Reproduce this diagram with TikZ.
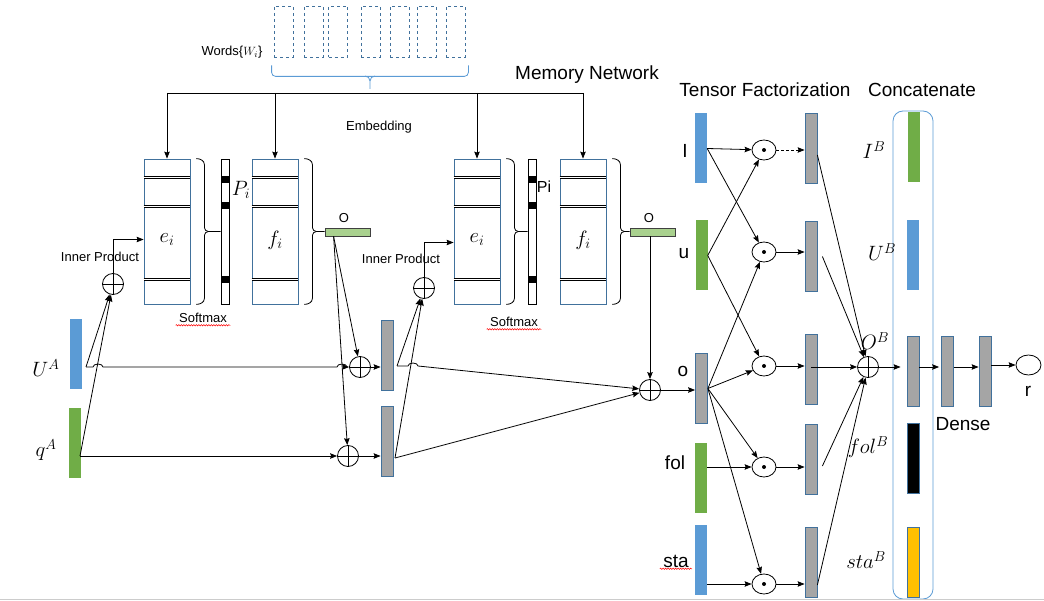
\documentclass[tikz,border=0pt]{standalone}
\usepackage{fontspec}
\setmainfont{Liberation Sans}
\usetikzlibrary{arrows,arrows.meta,positioning,calc,shapes.geometric,decorations.pathmorphing}
\definecolor{barblue}{HTML}{5B9BD5}
\definecolor{bargreen}{HTML}{70AD47}
\definecolor{lightgreen}{HTML}{A9D18E}
\definecolor{bargray}{HTML}{A5A5A5}
\definecolor{edgeblue}{HTML}{41719C}
\definecolor{baryellow}{HTML}{FFC000}
\tikzset{
    bar/.style={rectangle,inner sep=0pt,minimum width=12pt,minimum height=70pt},
    bluebar/.style={bar,fill=barblue},
    greenbar/.style={bar,fill=bargreen},
    graybar/.style={bar,fill=bargray,draw=edgeblue,line width=0.8pt},
    membox/.style={rectangle,draw=edgeblue,line width=0.8pt,minimum width=46pt,minimum height=145pt,inner sep=0pt},
    probbar/.style={rectangle,draw,fill=white,line width=0.8pt,minimum width=8pt,minimum height=145pt,inner sep=0pt},
    outbar/.style={rectangle,draw=black!75,fill=lightgreen,line width=0.8pt,minimum width=45pt,minimum height=8pt,inner sep=0pt},
    wordbox/.style={rectangle,draw=edgeblue,dashed,line width=0.8pt,minimum width=19pt,minimum height=51pt},
    addop/.style={circle,draw,line width=0.8pt,minimum size=21pt,inner sep=0pt,
        path picture={\draw[line width=0.8pt] (path picture bounding box.north) -- (path picture bounding box.south)
            (path picture bounding box.west) -- (path picture bounding box.east);}},
    dotop/.style={ellipse,draw,line width=0.8pt,minimum width=24pt,minimum height=20pt,inner sep=0pt,
        path picture={\fill (path picture bounding box.center) circle (2pt);}},
    pre/.style={->,line width=0.8pt,>={Stealth[length=7pt,width=5.5pt,inset=1pt]}},
    bi/.style={-,line width=0.8pt},
    wavy/.style={red,line width=0.5pt,decorate,decoration={snake,amplitude=0.7pt,segment length=2.5pt}},
    headline/.style={font=\fontsize{19}{23}\selectfont},
    smalltext/.style={font=\fontsize{13}{16}\selectfont},
    sym/.style={font=\fontsize{22.5}{27}\selectfont}
}

\begin{document}
\begin{tikzpicture}[x=1pt,y=-1pt]
\useasboundingbox (0,0) rectangle (1044,601);

% words and embedding
\foreach \x [count=\i] in {283.5,313.5,338,370.5,399.5,426.5,455.5}
    \node[wordbox] (w\i) at (\x,31.5) {};
\node[smalltext] (words) at (232,52) {Words\{$W_i$\}};
\coordinate (emb) at (370,93);
\draw[bi,draw=barblue,rounded corners=4pt] ($(w1.south west)+(-2,8)$) -- ($(w1.south west)+(-2,19)$) -- ($(w7.south east)+(3,19)$) -- ($(w7.south east)+(3,8)$);
\draw[bi,draw=barblue] ($(emb)+(-5,-17)$) to[out=0,in=90] ($(emb)+(0,-12)$) -- ($(emb)+(0,-4)$);
\draw[bi,draw=barblue] ($(emb)+(5,-17)$) to[out=180,in=90] ($(emb)+(0,-12)$);
\node[smalltext] (embedding) at (379,127) {Embedding};
\node[headline] (memnet) at (587,75) {Memory Network};

% memory hops
\node[membox]  (e1) at (167,231.5) {};
\node[probbar] (p1) at (225,231.5) {};
\node[membox]  (f1) at (275,231.5) {};
\node[outbar]  (o1) at (347.5,232) {};
\node[membox]  (e2) at (477,231.5) {};
\node[probbar] (p2) at (532,232) {};
\node[membox]  (f2) at (583,231.5) {};
\node[outbar]  (o2) at (652.5,232) {};

\foreach \b in {e1,f1,e2,f2}
    \foreach \d in {19,48,121}
        \draw[double,double distance=1.2pt,line width=0.7pt] ($(\b.north west)+(0,\d)$) -- ($(\b.north east)+(0,\d)$);
\foreach \p in {p1,p2}
    \foreach \d in {17,43,117}
        \fill ($(\p.north west)+(0,\d)$) rectangle ($(\p.north east)+(0,\d+7)$);
\foreach \b/\t in {e1/p1,f1/o1,e2/p2,f2/o2} {
    \draw[bi] ([xshift=6pt]\b.north east) to[out=0,in=90] ++(8,6) -- ([xshift=14pt,yshift=4pt]\b.east)
        to[out=-90,in=180] ++(4,4) -- (\t.west |- \b.east);
    \draw[bi] ([xshift=18pt]\b.east) to[out=180,in=90] ++(-4,4) -- ([xshift=14pt,yshift=6pt]\b.south east)
        to[out=-90,in=0] ([xshift=6pt]\b.south east);
}

\node[sym] (e1 lbl) at ($(e1)+(0,8)$) {$e_i$};
\node[sym] (f1 lbl) at ($(f1)+(0,9)$) {$f_i$};
\node[sym] (e2 lbl) at ($(e2)+(0,8)$) {$e_i$};
\node[sym] (f2 lbl) at ($(f2)+(0,9)$) {$f_i$};
\node[sym] (p1 lbl) at (241,190) {$P_i$};
\node[font=\fontsize{16}{19}\selectfont] (p2 lbl) at (544,187) {Pi};
\node[smalltext] (o1 lbl) at (344,218) {O};
\node[smalltext] (o2 lbl) at (649,218) {O};
\node[smalltext] (smx1) at (203,318) {Softmax};
\node[smalltext] (smx2) at (514,322) {Softmax};
\draw[wavy] ([yshift=1pt]smx1.south west) -- ([yshift=1pt]smx1.south east);
\draw[wavy] ([yshift=1pt]smx2.south west) -- ([yshift=1pt]smx2.south east);

\draw[bi] (e1.north |- emb) -- (f2.north |- emb);
\foreach \b in {e1,f1,e2,f2}
    \draw[pre] (\b.north |- emb) -- (\b.north);

% query side
\node[bluebar]  (UA) at (75.5,354) {};
\node[greenbar] (qA) at (74.5,443) {};
\node[sym] (UA lbl) at (46,368) {$U^A$};
\node[sym] (qA lbl) at (46,450) {$q^A$};
\node[addop] (ip1) at (113,284) {};
\node[addop] (ip2) at (424,288) {};
\node[smalltext] (ip1 lbl) at (100,257) {Inner Product};
\node[smalltext] (ip2 lbl) at (401,259) {Inner Product};
\node[addop] (add1) at (360,367) {};
\node[addop] (add2) at (348,456) {};
\node[graybar] (h1) at (387,355.5) {};
\node[graybar] (h2) at (387,441.5) {};
\node[addop] (sum) at (650,390) {};

\coordinate (ua out) at (86,367);
\coordinate (qa out) at (80,456);
\coordinate (o1 out) at ([xshift=9pt]o1.south west);
\coordinate (h1 out) at (397,366);
\coordinate (h2 out) at (395,458);

\draw[pre] (ua out) -- (ip1);
\draw[pre] (qa out) -- (ip1);
\draw[pre] (ip1.north) |- ([yshift=-8pt]e1.west);
\draw[pre] (ip2.north) |- ([yshift=-11pt]e2.west);
\draw[pre] (ua out) -- (93,367) arc[start angle=180,end angle=360,x radius=5,y radius=3]
    -- (337,367) arc[start angle=180,end angle=360,x radius=5,y radius=3] -- (add1);
\draw[pre] (qa out) -- (add2);
\draw[pre] (o1 out) -- (add1);
\draw[pre] (o1 out) -- (add2);
\draw[pre] (add1) -- (h1.west |- add1);
\draw[pre] (add2) -- (h2.west |- add2);
\draw[pre] (h1 out) -- (ip2);
\draw[pre] (h2 out) -- (ip2);
\draw[pre] (h1 out) -- (408,366) arc[start angle=180,end angle=360,x radius=5,y radius=3] -- (sum);
\draw[pre] (h2 out) -- (sum);
\draw[pre] (sum |- o2.south) -- (sum);

% tensor factorization
\node[headline] (tensor) at (765,90) {Tensor Factorization};
\node[headline] (concat) at (922,90) {Concatenate};
\node[bluebar]  (Ib)  at (701,148.5) {};
\node[greenbar] (ub)  at (701.5,255.5) {};
\node[graybar]  (ob)  at (701.5,388.5) {};
\node[greenbar] (fob) at (701,477.5) {};
\node[bluebar]  (stb) at (701,560) {};
\node[headline] (Ib lbl)  at (685,151) {I};
\node[headline] (ub lbl)  at (684,254) {u};
\node[headline] (ob lbl)  at (683,371) {o};
\node[headline] (fob lbl) at (675,463) {fol};
\node[headline] (stb lbl) at (676,561) {sta};
\draw[wavy] ([yshift=2pt]stb lbl.south west) -- ([yshift=2pt]stb lbl.south east);
\draw[pre] (sum) -- (ob.west |- sum);

\foreach \y [count=\i] in {150,252,366,467,584}
    \node[dotop] (d\i) at (764,\y) {};
\foreach \y [count=\i] in {148,256.5,369,459,562}
    \node[graybar] (t\i) at (811,\y) {};

\draw[pre] (Ib.east) -- (d1);
\draw[pre] (Ib.east) -- (d2);
\draw[pre] (ub.east) -- (d1);
\draw[pre] (ub.east) -- (d3);
\draw[pre] (ob.east) -- (d2);
\draw[pre] (ob.east) -- (d3);
\draw[pre] (ob.east) -- (d4);
\draw[pre] (ob.east) -- (d5);
\draw[pre] (fob.east |- d4) -- (d4);
\draw[pre] (stb.east |- d5) -- (d5);
\draw[pre,densely dashed] (d1) -- (t1.west |- d1);
\foreach \i in {2,...,5}
    \draw[pre] (d\i) -- (t\i.west |- d\i);

\node[addop] (addB) at (868,367) {};
\draw[pre] ([yshift=-7pt]t1.east) -- (addB);
\draw[pre] ([xshift=5pt]t2.east) -- (addB);
\draw[pre] (t3.center |- addB) -- (addB);
\draw[pre] ([xshift=5pt,yshift=-7pt]t4.east) -- (addB);
\draw[pre] ([yshift=-23pt]t5.east) -- (addB);

% concatenate and dense
\node[rectangle,draw=barblue,line width=0.8pt,rounded corners=10pt,minimum width=40pt,minimum height=488pt] (cbox) at (913,355) {};
\node[greenbar] (cI) at (913.5,147.5) {};
\node[bluebar]  (cU) at (912.5,255) {};
\node[graybar]  (cO) at (913,371) {};
\node[bar,fill=black,draw=edgeblue,line width=0.8pt] (cF) at (913,458) {};
\node[bar,fill=baryellow,draw=edgeblue,line width=0.8pt] (cS) at (913,562.5) {};
\node[sym] (cI lbl) at (874,150) {$I^B$};
\node[sym] (cU lbl) at (882,252) {$U^B$};
\node[sym] (cO lbl) at (875,341) {$O^B$};
\node[sym] (cF lbl) at (868,447) {$fol^B$};
\node[sym] (cS lbl) at (866,560) {$sta^B$};

\node[graybar] (dn1) at (947.5,371) {};
\node[graybar] (dn2) at (985,371) {};
\node[ellipse,draw,line width=0.8pt,minimum width=25pt,minimum height=20pt,inner sep=0pt] (r) at (1028.5,365) {};
\node[headline] (dense lbl) at (963,424) {Dense};
\node[headline] (r lbl) at (1028,391) {r};
\draw[pre,shorten >=6pt] (addB) -- (cO.west |- addB);
\draw[pre] (cO.east |- addB) -- ([xshift=-2pt]dn1.west |- addB);
\draw[pre] (dn1.east |- addB) -- (dn2.west |- addB);
\draw[pre] (dn2.east |- r) -- (r);

\draw[black!20] (0,599) -- (1044,599);
\end{tikzpicture}
\end{document}
